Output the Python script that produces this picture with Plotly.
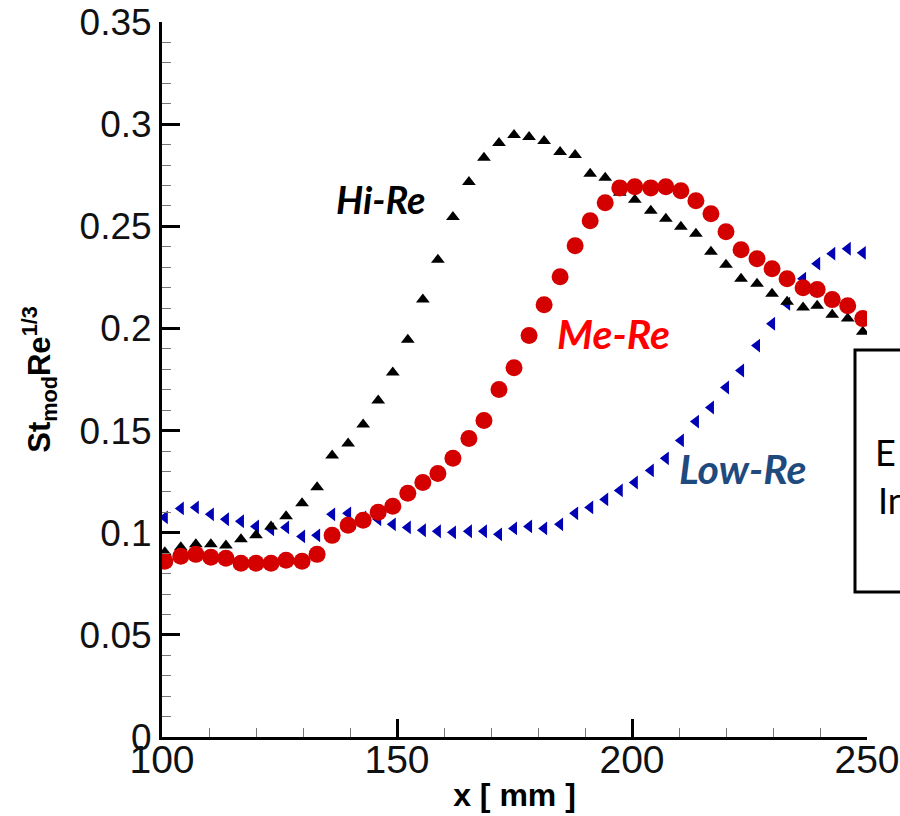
import plotly.graph_objects as go

x_mm = [100.6, 104.0, 107.2, 110.4, 113.6, 116.8, 120.0, 123.2, 126.4, 129.8,
        133.0, 136.2, 139.6, 142.8, 146.0, 149.1, 152.3, 155.5, 158.7, 161.9,
        165.3, 168.5, 171.7, 174.9, 178.1, 181.3, 184.7, 187.9, 191.1, 194.3,
        197.4, 200.6, 204.0, 207.2, 210.4, 213.6, 216.8, 220.0, 223.2, 226.6,
        229.8, 233.0, 236.4, 239.4, 242.6, 245.9, 249.1]

hi_re = [0.0904, 0.0929, 0.0943, 0.0943, 0.0938, 0.0968, 0.0987, 0.1031, 0.1080, 0.1144,
         0.1222, 0.1378, 0.1437, 0.1530, 0.1647, 0.1784, 0.1945, 0.2141, 0.2336, 0.2546,
         0.2717, 0.2835, 0.2908, 0.2947, 0.2937, 0.2918, 0.2864, 0.2849, 0.2757, 0.2737,
         0.2664, 0.2630, 0.2576, 0.2537, 0.2498, 0.2463, 0.2375, 0.2312, 0.2243, 0.2219,
         0.2170, 0.2131, 0.2102, 0.2111, 0.2067, 0.2048, 0.1984]

me_re = [0.0860, 0.0885, 0.0894, 0.0880, 0.0875, 0.0850, 0.0850, 0.0850, 0.0865, 0.0860,
         0.0894, 0.0987, 0.1036, 0.1061, 0.1100, 0.1129, 0.1193, 0.1246, 0.1290, 0.1364,
         0.1461, 0.1549, 0.1701, 0.1808, 0.1965, 0.2116, 0.2253, 0.2405, 0.2527, 0.2615,
         0.2688, 0.2693, 0.2688, 0.2693, 0.2674, 0.2625, 0.2561, 0.2473, 0.2385, 0.2341,
         0.2292, 0.2243, 0.2199, 0.2190, 0.2141, 0.2111, 0.2048]

low_re = [0.1075, 0.1119, 0.1124, 0.1090, 0.1066, 0.1056, 0.1031, 0.1017, 0.1026, 0.0982,
          0.0987, 0.1090, 0.1095, 0.1075, 0.1066, 0.1041, 0.1026, 0.1012, 0.1007, 0.1002,
          0.1007, 0.1007, 0.0992, 0.1021, 0.1031, 0.1021, 0.1041, 0.1095, 0.1124, 0.1163,
          0.1207, 0.1246, 0.1305, 0.1364, 0.1452, 0.1544, 0.1613, 0.1711, 0.1794, 0.1916,
          0.2023, 0.2121, 0.2243, 0.2317, 0.2366, 0.2390, 0.2370]

x_ticks = [100, 150, 200, 250]
y_ticks = [0, 0.05, 0.1, 0.15, 0.2, 0.25, 0.3, 0.35]
y_tick_labels = ["0", "0.05", "0.1", "0.15", "0.2", "0.25", "0.3", "0.35"]

fig = go.Figure()
fig.add_trace(go.Scatter(x=x_mm, y=low_re, mode="markers", name="Low-Re",
                         marker=dict(symbol="triangle-left", size=12, color="#0000B4")))
fig.add_trace(go.Scatter(x=x_mm, y=hi_re, mode="markers", name="Hi-Re",
                         marker=dict(symbol="triangle-up", size=12, color="#000000")))
fig.add_trace(go.Scatter(x=x_mm, y=me_re, mode="markers", name="Me-Re",
                         marker=dict(symbol="circle", size=17, color="#D40000")))

sans = "Liberation Sans, Arial"

fig.update_layout(
    width=900, height=816,
    margin=dict(l=162, r=33, t=22, b=79, autoexpand=False),
    paper_bgcolor="white", plot_bgcolor="white",
    showlegend=False,
    xaxis=dict(range=[100, 250], tickvals=x_ticks, ticktext=[str(v) for v in x_ticks],
               automargin=False,
               showline=True, linecolor="black", linewidth=3, mirror=False,
               ticks="inside", ticklen=18, tickwidth=3, tickcolor="black",
               ticklabelstandoff=-14,
               minor=dict(dtick=10, ticks="inside", ticklen=9, tickwidth=1, tickcolor="#777777", showgrid=False),
               showgrid=False, zeroline=False,
               tickfont=dict(family=sans, size=39, color="#111111"),
               title=dict(text="<b>x [ mm ]</b>", font=dict(family=sans, size=32, color="black"), standoff=4)),
    yaxis=dict(range=[0, 0.35], tickvals=y_ticks, ticktext=y_tick_labels,
               automargin=False,
               showline=True, linecolor="black", linewidth=3, mirror=False,
               ticks="inside", ticklen=18, tickwidth=3, tickcolor="black",
               minor=dict(dtick=0.01, ticks="inside", ticklen=9, tickwidth=1, tickcolor="#777777", showgrid=False),
               showgrid=False, zeroline=False,
               tickfont=dict(family=sans, size=37, color="#111111"),
               title=dict(text="<b>St<sub>mod</sub>Re<sup>1/3</sup></b>", font=dict(family=sans, size=31, color="black"), standoff=20)),
)

label_font = "Lato, Open Sans, sans-serif"
fig.add_annotation(x=146.6, y=0.2634, xref="x", yref="y", text="<b><i>Hi-Re</i></b>", showarrow=False,
                   font=dict(family=label_font, size=38, color="black"))
fig.add_annotation(x=196.0, y=0.1975, xref="x", yref="y", text="<b><i>Me-Re</i></b>", showarrow=False,
                   font=dict(family=label_font, size=41, color="#FF0000"))
fig.add_annotation(x=223.6, y=0.1315, xref="x", yref="y", text="<b><i>Low-Re</i></b>", showarrow=False,
                   font=dict(family=label_font, size=41, color="#1F4A7E"))

# partially visible box on the right edge
fig.add_shape(type="rect", xref="paper", yref="paper",
              x0=(855 - 162) / 705, x1=(960 - 162) / 705,
              y0=(737 - 592) / 715, y1=(737 - 350) / 715,
              line=dict(color="black", width=3), fillcolor="rgba(0,0,0,0)", layer="above")
fig.add_annotation(xref="paper", yref="paper", x=(873 - 162) / 705, y=(737 - 452) / 715,
                   xanchor="left", yanchor="middle", text="E", showarrow=False,
                   font=dict(family=label_font, size=36, color="black"))
fig.add_annotation(xref="paper", yref="paper", x=(876 - 162) / 705, y=(737 - 500) / 715,
                   xanchor="left", yanchor="middle", text="In", showarrow=False,
                   font=dict(family=label_font, size=36, color="black"))

fig.write_html("out.html")
